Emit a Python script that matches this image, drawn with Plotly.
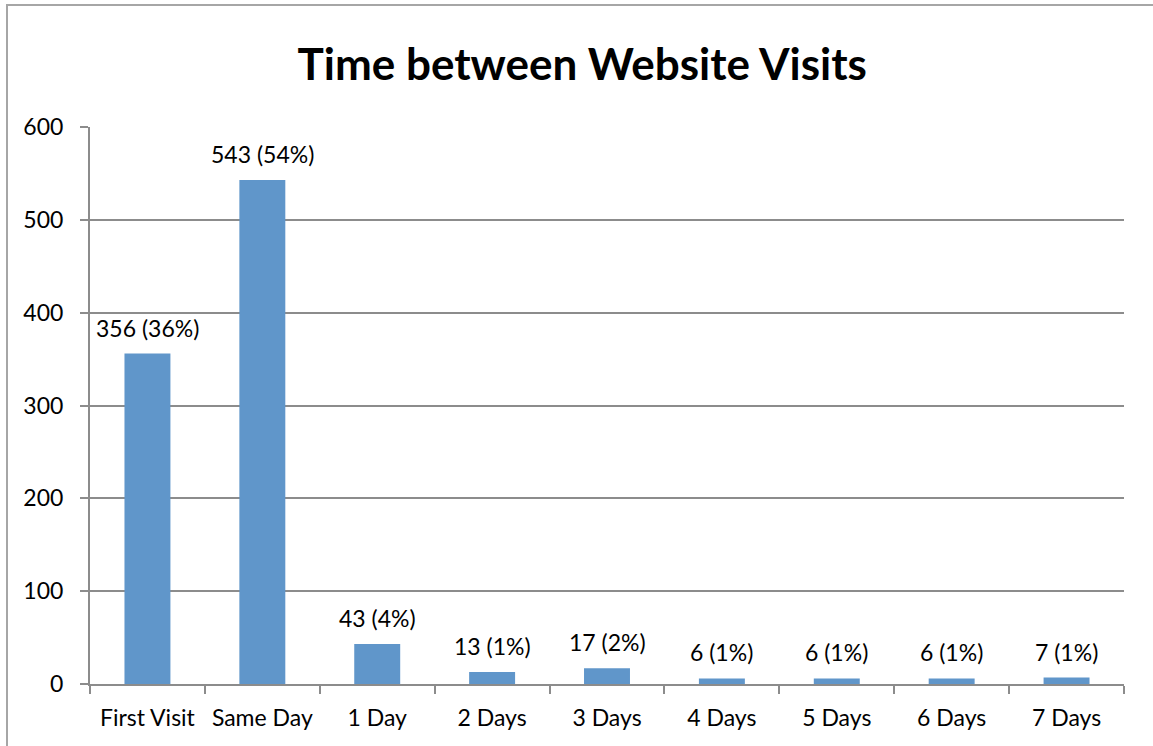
import plotly.graph_objects as go

categories = ["First Visit", "Same Day", "1 Day", "2 Days", "3 Days", "4 Days", "5 Days", "6 Days", "7 Days"]
counts = [356, 543, 43, 13, 17, 6, 6, 6, 7]
percents = [36, 54, 4, 1, 2, 1, 1, 1, 1]
y_ticks = [0, 100, 200, 300, 400, 500, 600]

labels = [f"{c} ({p}%)" for c, p in zip(counts, percents)]

FONT = "Lato, 'Open Sans', sans-serif"
GRID = "#8c8c8c"

fig = go.Figure(go.Bar(
    x=categories, y=counts,
    marker=dict(color="#6096CA", line=dict(width=0)),
    cliponaxis=False, hoverinfo="x+y",
))

for cat, val, lab in zip(categories, counts, labels):
    fig.add_annotation(x=cat, y=val, text=lab, showarrow=False,
                       yanchor="bottom", yshift=10,
                       font=dict(family=FONT, size=23, color="#000000"))

fig.update_layout(
    width=1153, height=746,
    margin=dict(l=90, r=29, t=127, b=62),
    paper_bgcolor="white", plot_bgcolor="white",
    bargap=0.6,
    showlegend=False,
    title=dict(text="<b>Time between Website Visits</b>", x=0.505, xanchor="center",
               y=0.913, yanchor="middle",
               font=dict(family=FONT, size=44, color="#000000")),
    xaxis=dict(
        type="category", showline=True, linecolor=GRID, linewidth=2,
        ticks="outside", tickson="boundaries", ticklen=8, tickwidth=2, tickcolor=GRID,
        tickfont=dict(family=FONT, size=23, color="#000000"),
        ticklabelstandoff=12,
        showgrid=False,
    ),
    yaxis=dict(
        range=[0, 600], tickvals=y_ticks, showline=True, linecolor=GRID, linewidth=2,
        ticks="outside", ticklen=8, tickwidth=2, tickcolor=GRID,
        tickfont=dict(family=FONT, size=23, color="#000000"),
        ticklabelstandoff=12,
        showgrid=True, gridcolor=GRID, gridwidth=2, zeroline=False,
    ),
    shapes=[dict(type="rect", xref="paper", yref="paper",
                 x0=(7 - 90) / 1034, x1=(1170 - 90) / 1034,
                 y0=(684 - 770) / 557, y1=(684 - 5) / 557,
                 line=dict(color="#a6a6a6", width=2), fillcolor="rgba(0,0,0,0)", layer="below")],
)

fig.write_html("out.html", config={"displayModeBar": False},
               post_script="document.body.style.margin='0';document.body.style.overflow='hidden';")
